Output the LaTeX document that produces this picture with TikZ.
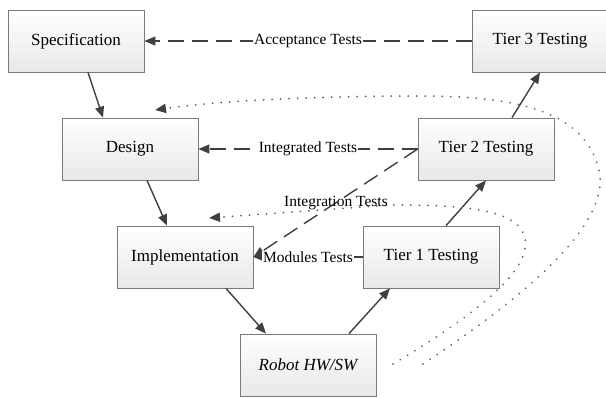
\documentclass[tikz,border=0pt]{standalone}
\usepackage{fontspec}
\setmainfont{Liberation Serif}
\usepackage{tikz}
\usetikzlibrary{arrows.meta,shadows}

\definecolor{linegray}{HTML}{404040}
\definecolor{boxgray}{HTML}{7A7A7A}

\begin{document}
\begin{tikzpicture}[x=1pt,y=-1pt,
        stage/.style={draw=boxgray, line width=0.8pt, top color=white, bottom color=black!9,
          minimum width=136pt, minimum height=62pt, inner sep=0pt,
          font={\fontsize{17}{20}\selectfont},
          drop shadow={shadow xshift=1.2pt, shadow yshift=-1.2pt, fill=black!30, opacity=0.8}},
        flow/.style={line width=1.4pt, linegray, -{Triangle[length=11pt,width=9pt]}},
        testline/.style={line width=1.4pt, linegray, dash pattern=on 16pt off 8pt,
          -{Triangle[length=11pt,width=9pt]}},
        dotline/.style={line width=2pt, black!62, line cap=round,
          dash pattern=on 0.01pt off 8.5pt,
          -{Triangle[length=11pt,width=9pt,color=linegray,line cap=butt]}},
        testlabel/.style={fill=white, text=black, inner sep=1pt,
          font={\fontsize{15.5}{18}\selectfont}}]
          \useasboundingbox (0,0) rectangle (606,397);

          %draw stages of the V
          \node[stage] (spec)      at (76,41)   {Specification};
          \node[stage] (design)    at (130,149) {Design};
          \node[stage] (impl)      at (185,257) {Implementation};
          \node[stage] (robot)     at (308,365) {\itshape Robot HW/SW};
          \node[stage] (tierone)   at (431,257) {Tier 1 Testing};
          \node[stage] (tiertwo)   at (486,149) {Tier 2 Testing};
          \node[stage] (tierthree) at (540,41)  {Tier 3 Testing};

          %down and up the V
          \draw[flow] ([xshift=12pt]spec.south)     -- ([xshift=-27pt]design.north);
          \draw[flow] ([xshift=17pt]design.south)   -- ([xshift=-18pt]impl.north);
          \draw[flow] ([xshift=41pt]impl.south)     -- ([xshift=-42pt]robot.north);
          \draw[flow] ([xshift=41pt]robot.north)    -- ([xshift=-41pt]tierone.south);
          \draw[flow] ([xshift=15pt]tierone.north)  -- (tiertwo.south);
          \draw[flow] ([xshift=26pt]tiertwo.north)  -- (tierthree.south);

          %test links
          \draw[testline] (tierthree.west) -- node[testlabel] {Acceptance Tests} (spec.east);
          \draw[testline] (tiertwo.west) -- node[testlabel] {Integrated Tests} (design.east);
          \draw[testline] (tiertwo.west) -- (impl.east);
          \draw[testline] (tierone.west) -- node[testlabel] {Modules Tests} (impl.east);

          %loops back from the robot
          \coordinate (innerstart) at (393,364);
          \coordinate (innerend)   at (209,218);
          \coordinate (outerstart) at (423,364);
          \coordinate (outerend)   at (155,110);
          \draw[dotline] (innerstart) .. controls (470,318) and (532,272) .. (525,238)
                .. controls (518,208) and (460,205) .. (390,205) -- (innerend);
          \node[testlabel, fill=none] (integration) at (336,203) {Integration Tests};
          \draw[dotline] (outerstart) .. controls (520,300) and (612,225) .. (599,170)
                .. controls (585,112) and (520,96) .. (420,96)
                .. controls (300,96) and (210,102) .. (outerend);
\end{tikzpicture}
\end{document}
